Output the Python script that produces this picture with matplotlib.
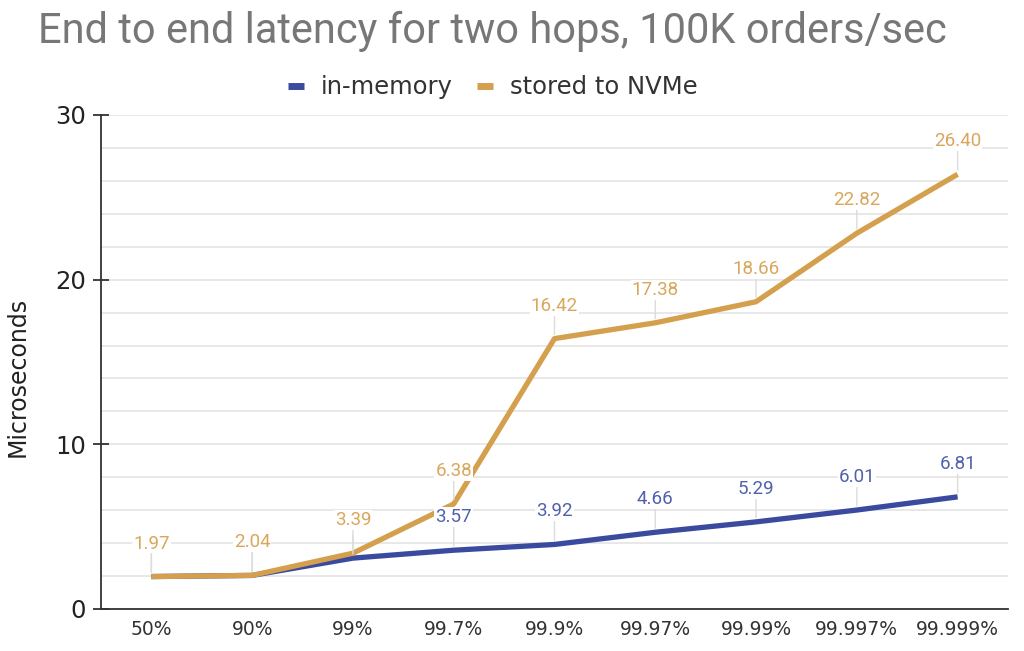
import matplotlib
matplotlib.use("Agg")
import matplotlib.pyplot as plt
from matplotlib import font_manager

categories = ["50%", "90%", "99%", "99.7%", "99.9%", "99.97%", "99.99%", "99.997%", "99.999%"]
in_memory = [1.97, 2.04, 3.09, 3.57, 3.92, 4.66, 5.29, 6.01, 6.81]
nvme = [1.97, 2.04, 3.39, 6.38, 16.42, 17.38, 18.66, 22.82, 26.40]
series_names = ["in-memory", "stored to NVMe"]
title = "End to end latency for two hops, 100K orders/sec"
ylabel = "Microseconds"
yticks = [0, 10, 20, 30]

blue_line = "#3a4a9f"
blue_text = "#5060ad"
orange_line = "#d4a04d"
orange_text = "#d9a75c"

names = {f.name for f in font_manager.fontManager.ttflist}
title_font = "Liberation Sans Narrow" if "Liberation Sans Narrow" in names else "Roboto"

fig = plt.figure(figsize=(10.24, 6.51), dpi=100)
ax = fig.add_axes([101/1024, 42/651, 907/1024, 494/651])

x = list(range(len(categories)))
ax.plot(x, in_memory, color=blue_line, lw=3.8, solid_capstyle="butt", zorder=3, label=series_names[0])
ax.plot(x, nvme, color=orange_line, lw=3.8, solid_capstyle="butt", zorder=4, label=series_names[1])

for vals, col, z in [(in_memory, blue_text, 5), (nvme, orange_text, 6)]:
    for xi, v in zip(x, vals):
        ax.annotate(f"{v:.2f}", xy=(xi, v), xytext=(0, 33), textcoords="offset pixels",
                    ha="center", va="center", fontsize=13.5, family="Roboto", color=col,
                    zorder=z,
                    bbox=dict(boxstyle="square,pad=0.05", fc="white", ec="none"),
                    arrowprops=dict(arrowstyle="-", color="#dcdcdc", lw=1.0,
                                    shrinkA=0, shrinkB=3))

ax.set_xlim(-0.5, len(categories) - 0.5)
ax.set_ylim(0, 30)
ax.set_xticks(x)
ax.set_xticklabels(categories, fontsize=13.5, color="#333333")
ax.tick_params(axis="x", length=0, pad=8)
ax.set_yticks(yticks)
ax.set_yticks([v for v in range(0, 31, 2)], minor=True)
ax.tick_params(axis="y", which="major", direction="inout", length=12, width=1.3,
               labelsize=17.5, color="#333333", labelcolor="#222222", pad=5)
ax.tick_params(axis="y", which="minor", length=0)
ax.grid(axis="y", which="both", color="#e4e4e4", lw=1.2, zorder=0)
ax.set_axisbelow(True)
for s in ["top", "right"]:
    ax.spines[s].set_visible(False)
for s in ["left", "bottom"]:
    ax.spines[s].set_color("#333333")
    ax.spines[s].set_linewidth(1.3)
ax.set_ylabel(ylabel, fontsize=17, color="#222222")
ax.yaxis.set_label_coords(-0.079, 0.47)

fig.text(0.481, 0.951, title, ha="center", va="center", fontsize=30, family=title_font, color="#777777")

leg = fig.legend(loc="center", bbox_to_anchor=(0.481, 0.866), ncol=2, frameon=False,
                 fontsize=17.5, handlelength=0.65, handletextpad=0.7, columnspacing=1.0)
for t in leg.get_texts():
    t.set_color("#333333")
for h in leg.get_lines():
    h.set_linewidth(5)

fig.savefig("out.png", dpi=100)
